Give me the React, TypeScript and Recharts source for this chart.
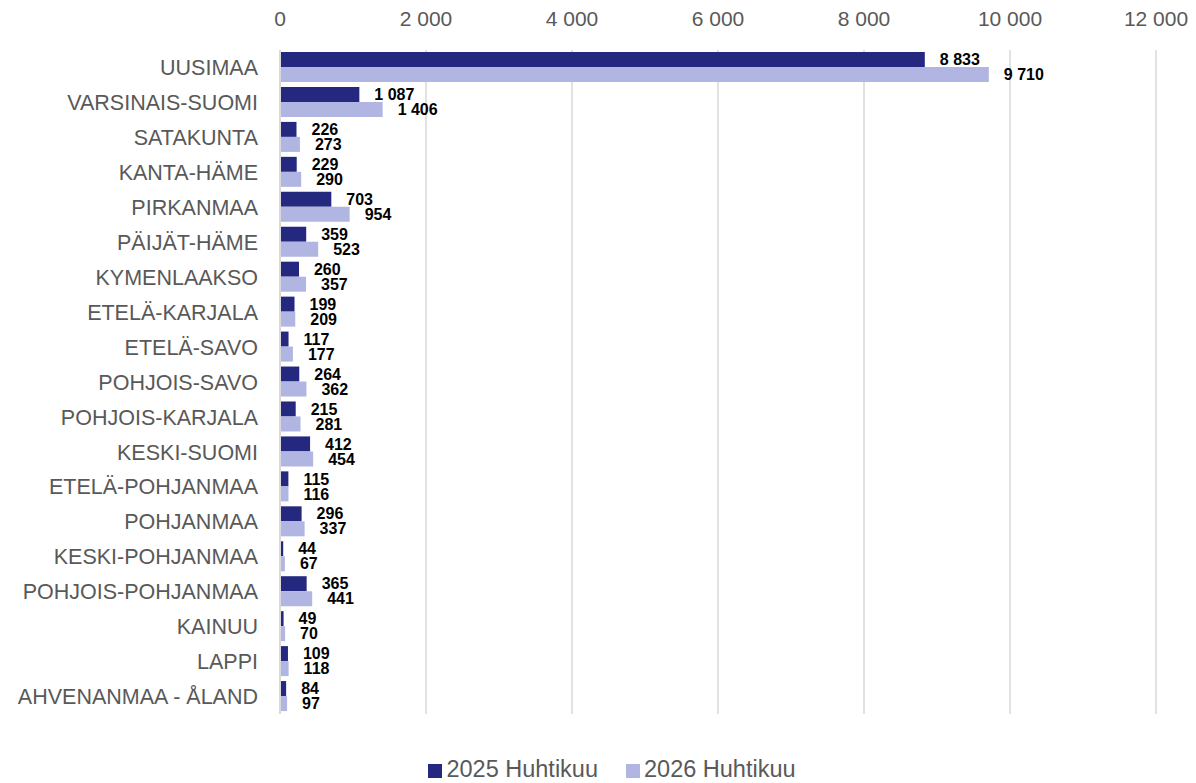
import React from 'react';
import { BarChart, Bar, XAxis, YAxis, CartesianGrid, Legend, LabelList } from 'recharts';

const regions = [
  'UUSIMAA', 'VARSINAIS-SUOMI', 'SATAKUNTA', 'KANTA-HÄME', 'PIRKANMAA', 'PÄIJÄT-HÄME',
  'KYMENLAAKSO', 'ETELÄ-KARJALA', 'ETELÄ-SAVO', 'POHJOIS-SAVO', 'POHJOIS-KARJALA',
  'KESKI-SUOMI', 'ETELÄ-POHJANMAA', 'POHJANMAA', 'KESKI-POHJANMAA', 'POHJOIS-POHJANMAA',
  'KAINUU', 'LAPPI', 'AHVENANMAA - ÅLAND',
];
const values2025 = [8833, 1087, 226, 229, 703, 359, 260, 199, 117, 264, 215, 412, 115, 296, 44, 365, 49, 109, 84];
const values2026 = [9710, 1406, 273, 290, 954, 523, 357, 209, 177, 362, 281, 454, 116, 337, 67, 441, 70, 118, 97];
const xTicks = [0, 2000, 4000, 6000, 8000, 10000, 12000];

const data = regions.map((region, i) => ({
  region,
  y2025: values2025[i],
  y2026: values2026[i],
}));

// thousands separator as a space, like the Finnish original
const fmt = (v: any) => String(v).replace(/\B(?=(\d{3})+(?!\d))/g, ' ');

const FONT = '"Liberation Sans", Arial, sans-serif';
const DARK = '#24287f';
const LIGHT = '#b1b5e1';
const GREY = '#595959';

export default function App() {
  return (
    <div style={{ position: 'absolute', left: 0, top: 0, fontFamily: FONT }}>
      <BarChart
        width={1196}
        height={783}
        data={data}
        layout="vertical"
        margin={{ top: 0, right: 40, left: 0, bottom: 42 }}
        barGap={0}
        barCategoryGap={2}
      >
        <CartesianGrid horizontal={false} stroke="#d9d9d9" strokeWidth={1.5} />
        <XAxis
          type="number"
          orientation="top"
          domain={[0, 12000]}
          ticks={xTicks}
          tickFormatter={fmt}
          axisLine={false}
          tickLine={false}
          height={50}
          tickMargin={18}
          tick={{ fill: GREY, fontSize: 21, fontFamily: FONT }}
        />
        <YAxis
          type="category"
          dataKey="region"
          width={280}
          axisLine={{ stroke: '#d9d9d9', strokeWidth: 2 }}
          tickLine={false}
          tickSize={0}
          tickMargin={22}
          interval={0}
          tick={{ fill: GREY, fontSize: 21.5, fontFamily: FONT }}
        />
        <Legend
          verticalAlign="bottom"
          iconType="square"
          iconSize={14}
          wrapperStyle={{ fontSize: 23.5, fontFamily: FONT, bottom: 0, left: 48 }}
          formatter={(value) => <span style={{ color: GREY, marginRight: 18 }}>{value}</span>}
        />
        <Bar dataKey="y2025" name="2025 Huhtikuu" fill={DARK} isAnimationActive={false}>
          <LabelList
            dataKey="y2025"
            position="right"
            offset={15}
            formatter={fmt}
            style={{ fill: '#000', fontSize: 16, fontWeight: 700, fontFamily: FONT }}
          />
        </Bar>
        <Bar dataKey="y2026" name="2026 Huhtikuu" fill={LIGHT} isAnimationActive={false}>
          <LabelList
            dataKey="y2026"
            position="right"
            offset={15}
            formatter={fmt}
            style={{ fill: '#000', fontSize: 16, fontWeight: 700, fontFamily: FONT }}
          />
        </Bar>
      </BarChart>
    </div>
  );
}
